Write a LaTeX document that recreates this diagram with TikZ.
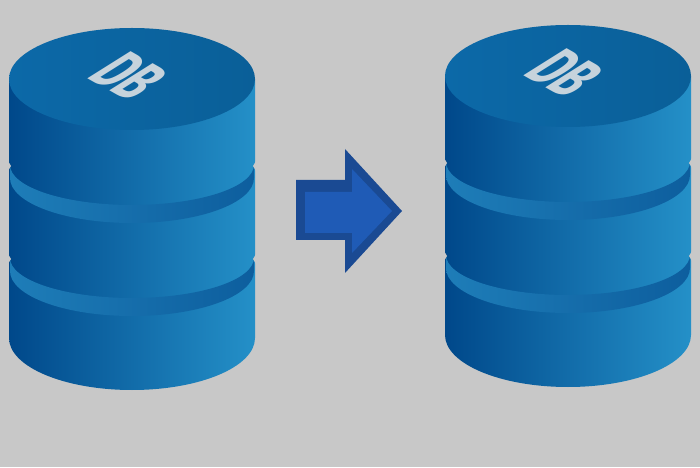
\documentclass[tikz,border=0pt]{standalone}
\usepackage{fontspec}
\setsansfont{Fira Sans}
\usepackage{tikz}
\definecolor{pagegray}{HTML}{C8C8C8}
\definecolor{bodyleft}{HTML}{00488A}
\definecolor{bodymid}{HTML}{0C68A6}
\definecolor{bodyright}{HTML}{2490C8}
\definecolor{lidleft}{HTML}{0C69A8}
\definecolor{lidright}{HTML}{0A5F98}
\definecolor{ringleft}{HTML}{1E7DB8}
\definecolor{ringright}{HTML}{0D5E9E}
\definecolor{labelgray}{HTML}{C6D3DC}
\definecolor{arrowedge}{HTML}{1A4A93}
\definecolor{arrowfill}{HTML}{1F5BB6}
\tikzset{
  stackbody/.style={left color=bodyleft, middle color=bodymid, right color=bodyright},
  stacklid/.style={left color=lidleft, right color=lidright},
  stackring/.style={left color=ringleft, right color=ringright},
  stacklabel/.style={text=labelgray, inner sep=0pt, transform shape,
    font=\sffamily\bfseries\fontsize{24pt}{24pt}\selectfont},
  pics/dbstack/.style={code={
    % side of the cylinder
    \shade[stackbody] (-123,0) -- (-123,-259)
      arc[start angle=180, end angle=360, x radius=123, y radius=52]
      -- (123,0) -- cycle;
    % two rings
    \foreach \ringtop in {-86,-179} {
      \shade[stackring] (-122,\ringtop)
        arc[start angle=180, end angle=360, x radius=122, y radius=40]
        -- ++(0,-13)
        arc[start angle=0, end angle=-180, x radius=122, y radius=45] -- cycle;
      % small nicks in the outline
      \fill[pagegray] (-124,\ringtop+4) -- (-121,\ringtop-1) -- (-124,\ringtop-6) -- cycle;
      \fill[pagegray] (124,\ringtop+4) -- (121,\ringtop-1) -- (124,\ringtop-6) -- cycle;
    }
    % lid
    \shade[stacklid] (0,0) ellipse [x radius=123, y radius=51];
    \node[stacklabel, cm={0.83,-0.47,1.48,0.93,(0,0)}] (-label) at (-3,3) {DB};
  }}
}
\begin{document}
\begin{tikzpicture}[x=0.02cm, y=0.02cm]
  \fill[pagegray] (0,0) rectangle (700,467);
  \useasboundingbox (0,0) rectangle (700,467);
  % both stacks
  \pic (source) at (132,388) {dbstack};
  \pic (target) at (568,391) {dbstack};
  % arrow between them
  \fill[arrowedge] (296,287) -- (345,287) -- (345,318) -- (402,256)
    -- (345,194) -- (345,227) -- (296,227) -- cycle;
  \fill[arrowfill] (305,275) -- (352,275) -- (352,298) -- (392,256)
    -- (352,214) -- (352,234) -- (305,234) -- cycle;
\end{tikzpicture}
\end{document}
